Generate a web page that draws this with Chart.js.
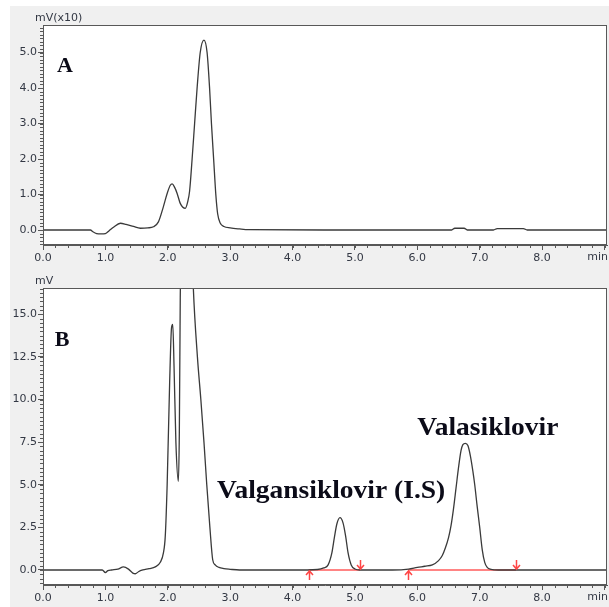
<!DOCTYPE html>
<html>
<head>
<meta charset="utf-8">
<script src="https://cdn.jsdelivr.net/npm/chart.js@4.4.1/dist/chart.umd.min.js"></script>
<style>
html,body{margin:0;padding:0;background:#fff;width:609px;height:607px;overflow:hidden;}
#bg{position:absolute;left:10px;top:6px;width:599px;height:601px;background:#f0f0f0;}
#wa{position:absolute;left:0;top:0;width:609px;height:268px;}
#wb{position:absolute;left:0;top:268px;width:609px;height:339px;}
canvas{display:block;}
</style>
</head>
<body>
<div id="bg"></div>
<div id="wa"><canvas id="ca" width="609" height="268"></canvas></div>
<div id="wb"><canvas id="cb" width="609" height="339"></canvas></div>
<script>
// ---------- DATA ----------
// Panel A: blank plasma, signal in mV x10
const timeA   = [0, 0.76, 0.80, 0.86, 0.93, 1.00, 1.06, 1.13, 1.24, 1.33, 1.45, 1.56, 1.68, 1.77, 1.85, 1.93, 1.99, 2.04, 2.07, 2.11, 2.15, 2.20, 2.28, 2.32, 2.35, 2.39, 2.43, 2.47, 2.52, 2.58, 2.63, 2.67, 2.70, 2.735, 2.77, 2.80, 2.84, 2.90, 3.00, 3.15, 3.30, 4.50, 6.00, 6.55, 6.60, 6.75, 6.80, 7.22, 7.28, 7.70, 7.76, 8.50, 9.04];
const signalA = [0, 0, -0.05, -0.10, -0.11, -0.10, -0.02, 0.08, 0.19, 0.16, 0.10, 0.05, 0.06, 0.09, 0.23, 0.66, 1.03, 1.26, 1.30, 1.20, 1.03, 0.75, 0.61, 0.80, 1.10, 2.00, 3.00, 4.00, 5.00, 5.35, 5.00, 4.00, 3.00, 2.00, 1.00, 0.45, 0.20, 0.10, 0.06, 0.03, 0.01, 0, 0, 0, 0.05, 0.05, 0, 0, 0.04, 0.04, 0, 0, 0];

// Panel B: spiked sample, signal in mV
const timeB   = [0, 0.95, 1.00, 1.04, 1.10, 1.20, 1.29, 1.37, 1.44, 1.48, 1.53, 1.60, 1.70, 1.80, 1.88, 1.93, 1.96, 1.99, 2.03, 2.06, 2.08, 2.10, 2.13, 2.17, 2.185, 2.20, 2.22, 2.28, 2.34, 2.41, 2.475, 2.53, 2.58, 2.625, 2.675, 2.72, 2.76, 2.82, 2.90, 3.00, 3.15, 4.00, 4.40, 4.50, 4.57, 4.63, 4.67, 4.71, 4.76, 4.81, 4.85, 4.89, 4.94, 5.00, 5.08, 5.60, 5.86, 6.00, 6.12, 6.24, 6.34, 6.40, 6.45, 6.50, 6.54, 6.58, 6.62, 6.66, 6.70, 6.73, 6.77, 6.81, 6.85, 6.89, 6.92, 6.96, 7.00, 7.04, 7.08, 7.12, 7.18, 7.30, 8.00, 9.04];
const signalB = [0, 0, -0.15, -0.04, 0, 0.05, 0.18, 0.05, -0.18, -0.22, -0.10, 0, 0.08, 0.18, 0.45, 1.00, 2.00, 5.00, 11.0, 14.2, 14.4, 12.0, 7.5, 5.2, 8.0, 16.0, 22.0, 26.0, 24.5, 16.5, 12.5, 10.0, 7.5, 5.0, 2.5, 0.6, 0.3, 0.15, 0.08, 0.04, 0, 0, 0.03, 0.12, 0.30, 1.00, 1.90, 2.70, 3.07, 2.75, 2.00, 1.00, 0.30, 0.06, 0, 0, 0.05, 0.15, 0.22, 0.30, 0.55, 0.85, 1.30, 1.90, 2.60, 3.60, 4.80, 6.00, 7.00, 7.35, 7.43, 7.30, 6.70, 5.80, 5.00, 3.70, 2.50, 1.20, 0.45, 0.15, 0.04, 0, 0, 0];

// integration baselines (start, end) in min
const isBaseline  = [4.26, 5.08];
const valBaseline = [5.85, 7.58];

// ticks / labels
const xTickValues = [0, 1, 2, 3, 4, 5, 6, 7, 8, 9];
const xTickLabels = ['0.0', '1.0', '2.0', '3.0', '4.0', '5.0', '6.0', '7.0', '8.0', 'min'];
const yTicksA = [0, 1, 2, 3, 4, 5];
const yTicksB = [0, 2.5, 5, 7.5, 10, 12.5, 15];
const yUnitA = 'mV(x10)';
const yUnitB = 'mV';
const panelNames = ['A', 'B'];
const peakNames = ['Valgansiklovir (I.S)', 'Valasiklovir'];

// ---------- helpers ----------
const pts = (xs, ys) => xs.map((x, i) => ({x: x, y: ys[i]}));
const TICK_FONT = {family: '"DejaVu Sans"', size: 11};
const TICK_COLOR = '#333844';
const AXIS_COLOR = '#585858';

const decor = {
  id: 'decor',
  beforeDraw(chart) {
    const {ctx, chartArea: a} = chart;
    ctx.save();
    ctx.fillStyle = '#ffffff';
    ctx.fillRect(a.left, a.top, a.right - a.left, a.bottom - a.top);
    ctx.restore();
  },
  afterDraw(chart, args, o) {
    const {ctx, chartArea: a, scales: {x, y}} = chart;
    ctx.save();
    // frame
    ctx.strokeStyle = AXIS_COLOR;
    ctx.lineWidth = 1;
    ctx.strokeRect(a.left + 0.5, a.top + 0.5, a.right - a.left - 1, a.bottom - a.top - 1);
    // minor ticks
    ctx.beginPath();
    for (let i = 0; i * o.xMinor <= x.max + 1e-9; i++) {
      const px = Math.round(x.getPixelForValue(i * o.xMinor)) + 0.5;
      ctx.moveTo(px, a.bottom); ctx.lineTo(px, a.bottom + 3);
    }
    const k0 = Math.ceil(y.min / o.yMinor - 1e-9);
    for (let k = k0; k * o.yMinor <= y.max + 1e-9; k++) {
      const py = Math.round(y.getPixelForValue(k * o.yMinor)) + 0.5;
      ctx.moveTo(a.left - 3, py); ctx.lineTo(a.left, py);
    }
    ctx.stroke();
    // unit title
    ctx.fillStyle = TICK_COLOR;
    ctx.font = '11px "DejaVu Sans"';
    ctx.textAlign = 'left';
    ctx.textBaseline = 'alphabetic';
    ctx.fillText(o.unit, 35, a.top - 4);
    // last x label (min), right aligned to the frame
    ctx.textAlign = 'right';
    ctx.textBaseline = 'top';
    ctx.fillText(xTickLabels[xTickLabels.length - 1], a.right + 1, a.bottom + 7);
    // arrows for integration marks
    if (o.marks) {
      ctx.strokeStyle = '#ff4545';
      ctx.lineWidth = 1.5;
      const y0 = y.getPixelForValue(0);
      o.marks.forEach(m => {
        [0, 1].forEach(j => {
          const px = Math.round(x.getPixelForValue(m[j])) + 0.5;
          ctx.beginPath();
          if (j === 0) { // up arrow below baseline
            ctx.moveTo(px, y0 + 10); ctx.lineTo(px, y0 + 1);
            ctx.moveTo(px - 3.5, y0 + 5); ctx.lineTo(px, y0 + 1); ctx.lineTo(px + 3.5, y0 + 5);
          } else { // down arrow above baseline
            ctx.moveTo(px, y0 - 10); ctx.lineTo(px, y0 - 1);
            ctx.moveTo(px - 3.5, y0 - 5); ctx.lineTo(px, y0 - 1); ctx.lineTo(px + 3.5, y0 - 5);
          }
          ctx.stroke();
        });
      });
    }
    // text labels
    ctx.fillStyle = '#0b0b18';
    ctx.textAlign = 'left';
    ctx.textBaseline = 'alphabetic';
    o.texts.forEach(t => {
      ctx.save();
      ctx.translate(x.getPixelForValue(t.x), y.getPixelForValue(t.y));
      ctx.scale(t.sx, 1);
      ctx.font = 'bold ' + t.size + 'px "Liberation Serif"';
      ctx.fillText(t.text, 0, 0);
      ctx.restore();
    });
    ctx.restore();
  }
};

function makeScales(yMin, yMax, yTicks, xHeight) {
  return {
    x: {
      type: 'linear', min: 0, max: 9.04,
      afterBuildTicks: s => { s.ticks = xTickValues.map(v => ({value: v})); },
      afterFit: s => { s.height = xHeight; },
      ticks: {
        autoSkip: false, maxRotation: 0, padding: 2, color: TICK_COLOR, font: TICK_FONT,
        callback: (v, i) => (i === xTickValues.length - 1 ? '' : xTickLabels[i])
      },
      grid: {drawOnChartArea: false, drawTicks: true, tickLength: 5, color: AXIS_COLOR},
      border: {display: true, color: AXIS_COLOR}
    },
    y: {
      type: 'linear', min: yMin, max: yMax,
      afterBuildTicks: s => { s.ticks = yTicks.map(v => ({value: v})); },
      afterFit: s => { s.width = 43; },
      ticks: {
        autoSkip: false, padding: 1, color: TICK_COLOR, font: TICK_FONT,
        callback: v => Number(v).toFixed(1)
      },
      grid: {drawOnChartArea: false, drawTicks: true, tickLength: 5, color: AXIS_COLOR},
      border: {display: true, color: AXIS_COLOR}
    }
  };
}

const lineStyle = {borderColor: '#3a3a3a', borderWidth: 1.3, pointRadius: 0, fill: false, cubicInterpolationMode: 'monotone'};
const redStyle  = {borderColor: 'rgba(255,110,110,0.85)', borderWidth: 2, pointRadius: 0, fill: false, tension: 0};

new Chart(document.getElementById('ca'), {
  type: 'line',
  data: {datasets: [Object.assign({data: pts(timeA, signalA)}, lineStyle)]},
  options: {
    responsive: false, animation: false, events: [], devicePixelRatio: 1,
    layout: {padding: {left: 0, top: 25, right: 2, bottom: 0}},
    scales: makeScales(-0.4225, 5.775, yTicksA, 23),
    plugins: {
      legend: {display: false}, tooltip: {enabled: false},
      decor: {
        xMinor: 0.2, yMinor: 0.1, unit: yUnitA,
        texts: [{text: panelNames[0], x: 0.225, y: 4.45, size: 21, sx: 1.05}]
      }
    }
  },
  plugins: [decor]
});

new Chart(document.getElementById('cb'), {
  type: 'line',
  data: {datasets: [
    Object.assign({data: pts(timeB, signalB)}, lineStyle),
    Object.assign({data: pts(isBaseline, [0, 0])}, redStyle),
    Object.assign({data: pts(valBaseline, [0, 0])}, redStyle)
  ]},
  options: {
    responsive: false, animation: false, events: [], devicePixelRatio: 1,
    layout: {padding: {left: 0, top: 20, right: 2, bottom: 0}},
    scales: makeScales(-0.88, 16.54, yTicksB, 22),
    plugins: {
      legend: {display: false}, tooltip: {enabled: false},
      decor: {
        xMinor: 0.2, yMinor: 0.25, unit: yUnitB,
        marks: [isBaseline, valBaseline],
        texts: [
          {text: panelNames[1], x: 0.19, y: 13.14, size: 21, sx: 1.05},
          {text: peakNames[0], x: 2.79, y: 4.22, size: 25, sx: 1.1},
          {text: peakNames[1], x: 6.0, y: 7.92, size: 25, sx: 1.1}
        ]
      }
    }
  },
  plugins: [decor]
});
</script>
</body>
</html>
